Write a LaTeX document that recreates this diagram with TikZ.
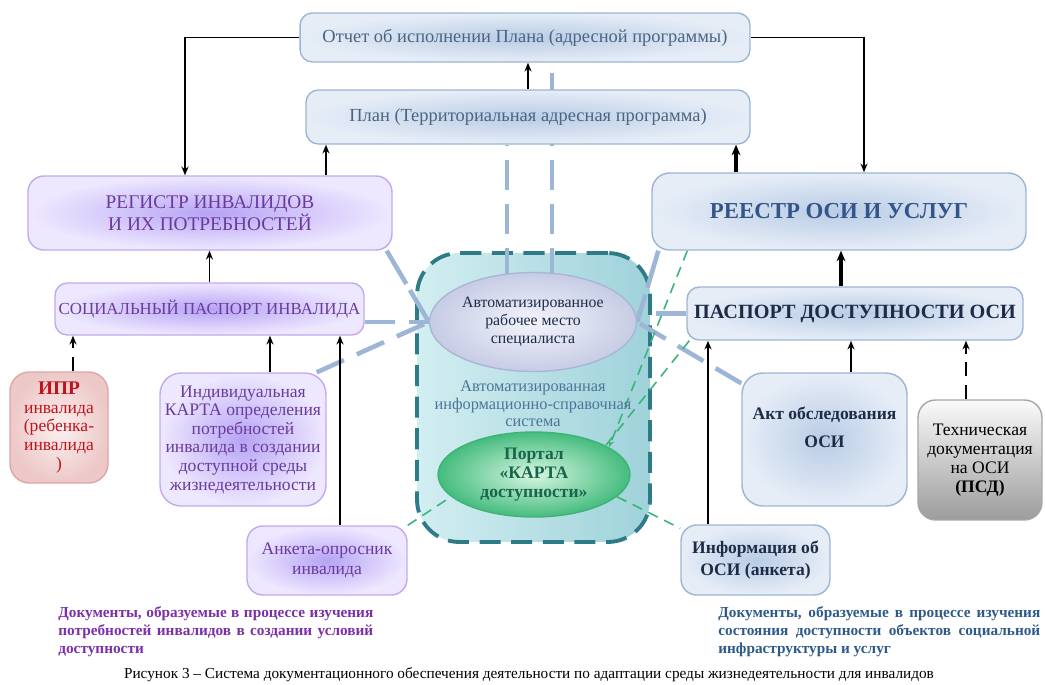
\documentclass[tikz,border=0pt]{standalone}
\usepackage{fontspec}
\setmainfont{Liberation Serif}
\usetikzlibrary{arrows.meta, shapes.geometric, calc}

\definecolor{lilacline}{HTML}{C2A9EE}
\definecolor{lilacin}{HTML}{B6A3F4}
\definecolor{lilacout}{HTML}{EEE8FF}
\definecolor{lilactext}{HTML}{6A3B9C}
\definecolor{blueline}{HTML}{9CB5D5}
\definecolor{bluein}{HTML}{B9CCE5}
\definecolor{blueout}{HTML}{E6EDF7}
\definecolor{greytext}{HTML}{4A6482}
\definecolor{navytext}{HTML}{34558A}
\definecolor{inktext}{HTML}{1D2B46}
\definecolor{linkblue}{HTML}{9DB6D8}
\definecolor{linkgreen}{HTML}{3DB37A}
\definecolor{aisline}{HTML}{2C7B87}
\definecolor{aisleft}{HTML}{D2EEF1}
\definecolor{aisright}{HTML}{9FD2DA}
\definecolor{aistext}{HTML}{4D7599}
\definecolor{armin}{HTML}{F4F4FB}
\definecolor{armout}{HTML}{C6CCE4}
\definecolor{armline}{HTML}{ABB5D6}
\definecolor{portalin}{HTML}{D8F6E3}
\definecolor{portalout}{HTML}{45BC7E}
\definecolor{portaltext}{HTML}{17654A}
\definecolor{iprin}{HTML}{FCF0F0}
\definecolor{iprout}{HTML}{EDC8C8}
\definecolor{iprline}{HTML}{DDA5A5}
\definecolor{iprtext}{HTML}{C0141C}
\definecolor{techtop}{HTML}{FAFAFA}
\definecolor{techbottom}{HTML}{9C9C9C}
\definecolor{leftcap}{HTML}{7B2FA8}
\definecolor{rightcap}{HTML}{2E5A8A}

\pgfdeclarelayer{back}
\pgfdeclarelayer{mid}
\pgfsetlayers{back,mid,main}

\begin{document}
\begin{tikzpicture}[x=0.02cm, y=-0.02cm,
  box/.style={draw, line width=0.8pt, rounded corners=7pt, align=center, inner sep=2pt},
  lilac/.style={box, draw=lilacline, inner color=lilacin, outer color=lilacout, text=lilactext},
  pale/.style={box, draw=blueline, inner color=bluein, outer color=blueout},
  arr/.style={-{Stealth[length=5pt,width=4pt]}, line width=1.1pt},
  fatarr/.style={-{Stealth[length=6pt,width=5pt]}, line width=2pt},
  link/.style={linkblue, line width=2.6pt, dash pattern=on 17pt off 8pt},
  web/.style={linkgreen, line width=0.9pt, dash pattern=on 6pt off 4pt},
  note/.style={font=\bfseries\fontsize{8.7}{10.3}\selectfont, anchor=north west, align=justify, inner sep=0pt}]

\useasboundingbox (0,0) rectangle (1045,684);

% Upper row: report and plan
\node[pale, text=greytext, minimum width=9cm, minimum height=0.98cm,
  font=\fontsize{10.5}{12}\selectfont] (report) at (525,37.5)
  {Отчет об исполнении Плана (адресной программы)};
\node[pale, text=greytext, minimum width=8.88cm, minimum height=1.08cm,
  font=\fontsize{10.5}{12}\selectfont] (plan) at (528,117)
  {План (Территориальная адресная программа)};

% Left side: needs of disabled persons
\node[lilac, rounded corners=9pt, minimum width=7.28cm, minimum height=1.48cm,
  font=\fontsize{11}{11.6}\selectfont] (reg) at (210,213)
  {РЕГИСТР ИНВАЛИДОВ\\И ИХ ПОТРЕБНОСТЕЙ};
\node[lilac, minimum width=6.18cm, minimum height=1.04cm,
  font=\fontsize{9.6}{12}\selectfont] (social) at (209.5,309)
  {СОЦИАЛЬНЫЙ ПАСПОРТ ИНВАЛИДА};
\node[box, rounded corners=11pt, draw=iprline, inner color=iprin, outer color=iprout,
  text=iprtext, minimum width=1.96cm, minimum height=2.22cm,
  font=\fontsize{10}{10.6}\selectfont] (ipr) at (59,427.5)
  {{\bfseries\fontsize{11}{11}\selectfont ИПР}\\инвалида\\(ребенка-\\инвалида\\)};
\node[lilac, rounded corners=12pt, minimum width=3.32cm, minimum height=2.66cm,
  font=\fontsize{10}{10.6}\selectfont] (card) at (243,439.5)
  {Индивидуальная\\КАРТА определения\\потребностей\\инвалида в создании\\доступной среды\\жизнедеятельности};
\node[lilac, rounded corners=9pt, minimum width=3.2cm, minimum height=1.38cm,
  font=\fontsize{10}{11}\selectfont] (anketa) at (327,560.5)
  {Анкета-опросник\\инвалида};

% Right side: accessibility of objects
\node[pale, rounded corners=10pt, text=navytext, minimum width=7.48cm, minimum height=1.54cm,
  font=\bfseries\fontsize{13}{14}\selectfont] (reestr) at (839,211.5)
  {РЕЕСТР ОСИ И УСЛУГ};
\node[pale, text=inktext, minimum width=6.72cm, minimum height=1.06cm,
  font=\bfseries\fontsize{11.5}{13}\selectfont] (pasp) at (855,313.5)
  {ПАСПОРТ ДОСТУПНОСТИ ОСИ};
\node[pale, rounded corners=12pt, text=inktext, minimum width=3.3cm, minimum height=2.66cm,
  font=\bfseries\fontsize{10}{11}\selectfont] (akt) at (824.5,439.5)
  {Акт обследования\\[5pt]ОСИ\\[2.6pt]\mbox{}};
\node[box, rounded corners=10pt, draw=gray!70, top color=techtop, bottom color=techbottom,
  minimum width=2.48cm, minimum height=2.4cm,
  font=\fontsize{10}{10.7}\selectfont] (tech) at (980,460)
  {Техническая\\документация\\на ОСИ\\\textbf{(ПСД)}};
\node[pale, rounded corners=9pt, text=inktext, minimum width=2.98cm, minimum height=1.4cm,
  font=\bfseries\fontsize{10}{12.5}\selectfont] (info) at (755.5,560)
  {Информация об\\ОСИ (анкета)};

% Centre: information system with its two parts
\begin{pgfonlayer}{back}
\node[draw=aisline, line width=2.2pt, dash pattern=on 12pt off 6pt, rounded corners=24pt,
  left color=aisleft, right color=aisright,
  minimum width=4.66cm, minimum height=5.78cm] (ais) at (533.5,397.5) {};
\end{pgfonlayer}
\node[ellipse, draw=armline, line width=0.8pt, inner color=armin, outer color=armout,
  text=inktext, minimum width=4.14cm, minimum height=1.98cm, align=center, inner sep=0pt,
  font=\fontsize{9}{10.4}\selectfont] (arm) at (533,322)
  {Автоматизированное\\рабочее место\\специалиста};
\node[text=aistext, align=center, font=\fontsize{9.3}{10}\selectfont] (aisname) at (533,404)
  {Автоматизированная\\информационно-справочная\\система};
\node[ellipse, draw=linkgreen, line width=0.8pt, inner color=portalin, outer color=portalout,
  text=portaltext, minimum width=3.84cm, minimum height=1.7cm, align=center, inner sep=0pt,
  font=\bfseries\fontsize{10}{11}\selectfont] (portal) at (534,474.5)
  {Портал\\«КАРТА\\доступности»};

% Data links to and from the system
\begin{pgfonlayer}{mid}
\draw[link] ([xshift=-0.52cm]arm.center) coordinate (a1) -- (a1 |- plan.south);
\draw[link] ([xshift=0.38cm]arm.center) coordinate (a2) -- (a2 |- report.south);
\draw[link, dash pattern=on 22pt off 4pt] ([xshift=-0.12cm]reg.south east) -- (arm.west);
\draw[link] (arm.west -| social.east) -- (arm.west);
\draw[link] ([xshift=-0.2cm]card.north east) -- (arm.west);
\draw[link, dash pattern=on 22pt off 4pt] ([xshift=0.14cm]reestr.south west) -- (arm.east);
\draw[link] (pasp.west) -- (pasp.west -| arm.east);
\draw[link] ([yshift=-0.22cm]akt.north west) -- (arm.east);

\draw[web] (anketa.north east) -- (portal.195);
\draw[web] (portal.345) -- ([yshift=-0.08cm]info.north west);
\draw[web, -{Stealth[length=4pt,width=3pt]}] ([xshift=0.72cm]reestr.south west) -- (portal.20);
\draw[web] ([xshift=0.06cm]pasp.south west) -- (portal.22);
\end{pgfonlayer}

% Document flow
\draw[arr] (report.west) -| ([xshift=-0.5cm]reg.north);
\draw[arr] (report.east) -| ([xshift=0.5cm]reestr.north);
\draw[arr, line width=0.8pt] (plan.north) -- (plan.north |- report.south);
\draw[arr] ([xshift=2.32cm]reg.north) coordinate (r1) -- (r1 |- plan.south);
\draw[fatarr] ([xshift=-2.06cm]reestr.north) coordinate (r2) -- (r2 |- plan.south);
\draw[arr] (social.north) -- (social.north |- reg.south);
\draw[arr, dash pattern=on 8pt off 5pt] ([xshift=0.28cm]ipr.north) coordinate (s1) -- (s1 |- social.south);
\draw[arr] ([xshift=0.54cm]card.north) coordinate (s2) -- (s2 |- social.south);
\draw[arr] ([xshift=0.26cm]anketa.north) coordinate (s3) -- (s3 |- social.south);
\draw[fatarr] ([xshift=-0.28cm]pasp.north) coordinate (p1) -- (p1 |- reestr.south);
\draw[arr, line width=1.4pt] ([xshift=0.53cm]akt.north) coordinate (p2) -- (p2 |- pasp.south);
\draw[arr, dash pattern=on 8pt off 5pt] ([xshift=-0.28cm]tech.north) coordinate (p3) -- (p3 |- pasp.south);
\draw[arr] ([xshift=-0.95cm]info.north) coordinate (p4) -- (p4 |- pasp.south);

% Notes and figure caption
\node[note, text=leftcap, text width=6.3cm] (leftnote) at (58,606)
  {Документы, образуемые в процессе изучения\linebreak
   потребностей инвалидов в создании условий\linebreak доступности};
\node[note, text=rightcap, text width=6.44cm] (rightnote) at (718,606)
  {Документы, образуемые в процессе изучения\linebreak
   состояния доступности объектов социальной\linebreak инфраструктуры и услуг};
\node[font=\fontsize{8.7}{10}\selectfont] (figcap) at (529,675)
  {Рисунок 3 – Система документационного обеспечения деятельности по адаптации среды жизнедеятельности для инвалидов};

\end{tikzpicture}
\end{document}
